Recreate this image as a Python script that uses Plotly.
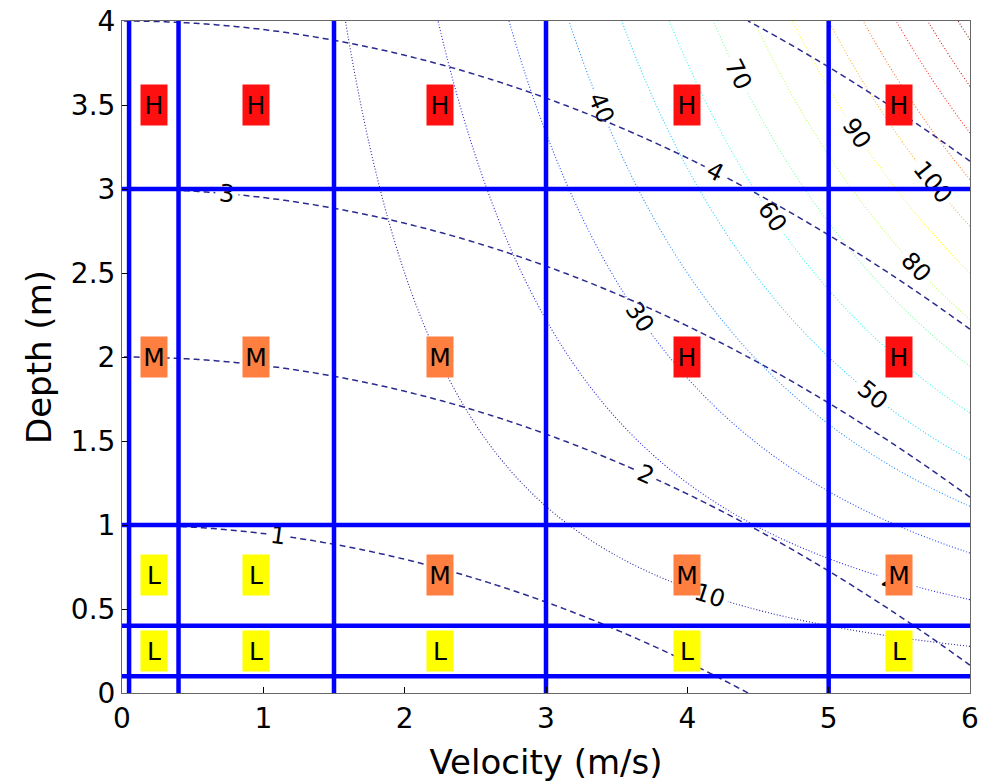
import numpy as np
import plotly.graph_objects as go

# ---- data ----
velocity_grid = np.linspace(0, 6, 241)
depth_grid = np.linspace(0, 4, 161)
G = 9.81  # gravity (m/s^2)

energy_levels = [1, 2, 3, 4, 5]          # specific energy D + V^2/(2g)
force_levels = list(range(10, 150, 10))  # D * V^2

v_class_edges = [0.05, 0.4, 1.5, 3, 5]
d_class_edges = [0.1, 0.4, 1, 3]

cell_velocity = [0.225, 0.95, 2.25, 4.0, 5.5]
cell_depth = [0.25, 0.7, 2.0, 3.5]
ratings = {
    0.25: ["L", "L", "L", "L", "L"],
    0.7:  ["L", "L", "M", "M", "M"],
    2.0:  ["M", "M", "M", "H", "H"],
    3.5:  ["H", "H", "H", "H", "H"],
}
rating_colors = {"H": "#ff1010", "M": "#ff7f40", "L": "#ffff00"}

x_ticks = [0, 1, 2, 3, 4, 5, 6]
y_ticks = [0, 0.5, 1, 1.5, 2, 2.5, 3, 3.5, 4]
y_tick_text = ["0", "0.5", "1", "1.5", "2", "2.5", "3", "3.5", "4"]

FONT = "DejaVu Sans"
A = 0.85
jet_light = [
    [0.0, f"rgba(0,0,143,{A})"], [0.11, f"rgba(0,0,255,{A})"],
    [0.36, f"rgba(0,255,255,{A})"], [0.61, f"rgba(255,255,0,{A})"],
    [0.86, f"rgba(255,0,0,{A})"], [1.0, f"rgba(128,0,0,{A})"],
]

# ---- fields ----
V, D = np.meshgrid(velocity_grid, depth_grid)
energy = D + V ** 2 / (2 * G)
force = D * V ** 2

fig = go.Figure()

fig.add_trace(go.Contour(
    x=velocity_grid, y=depth_grid, z=force,
    contours=dict(coloring="lines", start=force_levels[0], end=force_levels[-1],
                  size=10, showlabels=True,
                  labelfont=dict(size=24, color="black", family=FONT)),
    colorscale=jet_light, zmin=0, zmax=float(force.max()),
    line=dict(width=1.1, dash="1px,2px", smoothing=1),
    showscale=False, hoverinfo="skip",
))

fig.add_trace(go.Contour(
    x=velocity_grid, y=depth_grid, z=energy,
    contours=dict(coloring="lines", start=energy_levels[0], end=energy_levels[-1],
                  size=1, showlabels=True,
                  labelfont=dict(size=24, color="black", family=FONT)),
    colorscale=[[0, "#2a2a90"], [1, "#2a2a90"]],
    line=dict(width=1.5, dash="6px,4px", smoothing=1),
    showscale=False, hoverinfo="skip",
))

for v in v_class_edges:
    fig.add_trace(go.Scatter(x=[v, v], y=[0, 4], mode="lines",
                             line=dict(color="#0000ff", width=4.5),
                             showlegend=False, hoverinfo="skip"))
for d in d_class_edges:
    fig.add_trace(go.Scatter(x=[0, 6], y=[d, d], mode="lines",
                             line=dict(color="#0000ff", width=4.5),
                             showlegend=False, hoverinfo="skip"))

for d in cell_depth:
    for v, r in zip(cell_velocity, ratings[d]):
        fig.add_annotation(x=v, y=d, text=r, showarrow=False,
                           bgcolor=rating_colors[r], width=26, height=40,
                           borderpad=0, font=dict(size=25, color="black", family=FONT))

axis_common = dict(showgrid=False, zeroline=False, showline=True, mirror=True,
                   linecolor="#666666", linewidth=1, ticks="inside", ticklen=6,
                   tickcolor="black", tickfont=dict(size=28, family=FONT, color="black"),
                   title_font=dict(size=34, family=FONT, color="black"),
                   automargin=False)

fig.update_xaxes(range=[0, 6], tickvals=x_ticks, title_text="Velocity (m/s)",
                 title_standoff=16, **axis_common)
fig.update_yaxes(range=[0, 4], tickvals=y_ticks, ticktext=y_tick_text,
                 title_text="Depth (m)", title_standoff=8, **axis_common)

fig.update_layout(width=991, height=784, showlegend=False,
                  margin=dict(l=122, r=21, t=21, b=91),
                  plot_bgcolor="white", paper_bgcolor="white",
                  font=dict(family=FONT))

fig.write_html("out.html")
